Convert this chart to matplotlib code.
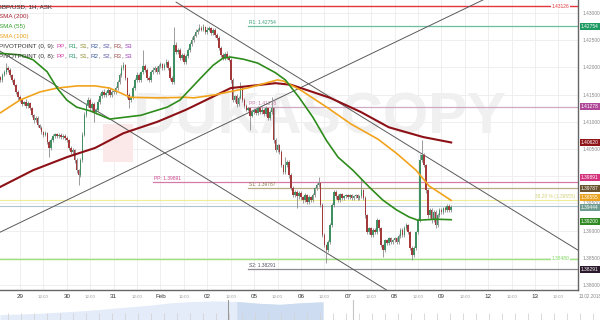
import numpy as np
import matplotlib
matplotlib.use("Agg")
import matplotlib.pyplot as plt
from matplotlib.patches import Rectangle

plt.rcParams['font.family'] = ['Liberation Sans', 'DejaVu Sans']

# hourly GBP/USD candles, hour 0 = Jan 29 00:00 (trading hours only, weekend skipped)
first_open = 1.4182
closes = [
    1.4177, 1.4186, 1.4191, 1.4199, 1.4195, 1.4186, 1.4177, 1.4168, 1.4155, 1.4145,
    # Jan 29
    1.4140, 1.4133, 1.4136, 1.4129, 1.4135, 1.4125, 1.4112, 1.4103, 1.4107, 1.4094, 1.4089, 1.4081,
    1.4076, 1.4079, 1.4063, 1.4052, 1.4066, 1.4074, 1.4077, 1.4074, 1.4076, 1.4072, 1.4074, 1.4070,
    # Jan 30
    1.4066, 1.4052, 1.4044, 1.4048, 1.4030, 1.4011, 1.4002, 1.4030, 1.4076, 1.4112, 1.4131, 1.4140,
    1.4125, 1.4133, 1.4118, 1.4122, 1.4136, 1.4147, 1.4155, 1.4149, 1.4153, 1.4158, 1.4149, 1.4155,
    # Jan 31
    1.4155, 1.4162, 1.4173, 1.4186, 1.4199, 1.4204, 1.4180, 1.4149, 1.4140, 1.4145, 1.4162, 1.4177,
    1.4186, 1.4177, 1.4191, 1.4202, 1.4195, 1.4180, 1.4177, 1.4191, 1.4195, 1.4199, 1.4191, 1.4202,
    # Feb 1
    1.4206, 1.4199, 1.4204, 1.4210, 1.4199, 1.4180, 1.4173, 1.4241, 1.4228, 1.4232, 1.4217, 1.4223,
    1.4210, 1.4221, 1.4232, 1.4243, 1.4250, 1.4258, 1.4265, 1.4269, 1.4272, 1.4269, 1.4274, 1.4265,
    # Feb 2
    1.4269, 1.4272, 1.4263, 1.4269, 1.4260, 1.4254, 1.4236, 1.4223, 1.4217, 1.4225, 1.4219, 1.4214,
    1.4177, 1.4140, 1.4147, 1.4133, 1.4144, 1.4162, 1.4140, 1.4129, 1.4122, 1.4125, 1.4111, 1.4118,
    # Feb 5
    1.4122, 1.4116, 1.4125, 1.4118, 1.4122, 1.4114, 1.4125, 1.4107, 1.4118, 1.4125, 1.4066, 1.4048,
    1.4057, 1.4044, 1.4020, 1.4007, 1.4020, 1.4026, 1.4002, 1.3978, 1.3965, 1.3971, 1.3963, 1.3969,
    # Feb 6
    1.3961, 1.3956, 1.3965, 1.3952, 1.3961, 1.3956, 1.3965, 1.3978, 1.3984, 1.3987, 1.3947, 1.3892,
    1.3873, 1.3864, 1.3879, 1.3910, 1.3947, 1.3971, 1.3963, 1.3956, 1.3967, 1.3960, 1.3963, 1.3965,
    # Feb 7
    1.3961, 1.3965, 1.3960, 1.3963, 1.3965, 1.3960, 1.3963, 1.3974, 1.3960, 1.3928, 1.3897, 1.3904,
    1.3892, 1.3901, 1.3897, 1.3919, 1.3904, 1.3873, 1.3864, 1.3882, 1.3877, 1.3886, 1.3879, 1.3882,
    # Feb 8
    1.3886, 1.3879, 1.3890, 1.3901, 1.3892, 1.3905, 1.3910, 1.3897, 1.3868, 1.3855, 1.3868, 1.3897,
    1.3919, 1.4030, 1.4039, 1.4020, 1.3974, 1.3928, 1.3938, 1.3919, 1.3934, 1.3910, 1.3928, 1.3938,
    # Feb 9
    1.3934, 1.3941, 1.3938, 1.3945, 1.3938, 1.3944,
]
# wick lengths in pips beyond the body
wick_up = [
    3, 4, 5, 9, 3, 3, 2, 3, 2, 3,
    4, 3, 3, 5, 3, 2, 3, 2, 4, 3, 2, 3, 3, 4, 2, 3, 5, 4, 3, 3, 4, 3, 3, 3,
    3, 2, 3, 3, 2, 3, 3, 4, 5, 6, 4, 5, 3, 4, 3, 4, 5, 6, 4, 5, 3, 6, 4, 3,
    3, 4, 3, 4, 5, 6, 3, 3, 4, 3, 4, 4, 5, 4, 3, 30, 4, 3, 4, 5, 6, 4, 3, 5,
    4, 3, 4, 5, 3, 3, 4, 33, 5, 4, 3, 4, 3, 4, 3, 4, 5, 4, 5, 4, 8, 4, 5, 3,
    5, 4, 3, 4, 3, 3, 3, 3, 3, 4, 5, 3, 3, 4, 3, 4, 3, 11, 3, 3, 3, 3, 3, 4,
    4, 3, 4, 3, 5, 3, 4, 3, 4, 20, 3, 4, 3, 3, 4, 3, 15, 3, 3, 3, 4, 4, 3, 4,
    4, 3, 4, 3, 4, 3, 4, 3, 4, 11, 3, 3, 3, 3, 4, 4, 4, 4, 3, 4, 3, 3, 3, 3,
    3, 3, 3, 3, 3, 3, 3, 22, 3, 3, 3, 3, 3, 3, 3, 5, 3, 3, 3, 3, 3, 3, 3, 3,
    3, 3, 3, 4, 3, 3, 4, 3, 3, 3, 3, 3, 4, 10, 27, 3, 3, 3, 4, 3, 4, 3, 4, 3,
    3, 3, 4, 3, 4, 3,
]
wick_dn = [
    3, 3, 2, 3, 4, 3, 4, 3, 4, 5,
    3, 4, 3, 3, 4, 3, 4, 5, 3, 4, 3, 3, 4, 3, 4, 17, 3, 3, 3, 4, 3, 3, 4, 3,
    4, 3, 4, 3, 5, 6, 18, 4, 3, 3, 3, 4, 3, 5, 19, 3, 4, 3, 3, 4, 3, 3, 4, 3,
    3, 3, 3, 3, 4, 3, 4, 5, 15, 3, 4, 3, 3, 4, 3, 3, 3, 4, 3, 3, 3, 4, 3, 3,
    3, 3, 4, 3, 4, 3, 4, 3, 4, 3, 4, 3, 3, 3, 3, 3, 3, 3, 3, 3, 3, 3, 3, 4,
    3, 3, 3, 3, 4, 3, 4, 3, 3, 3, 3, 3, 5, 4, 3, 5, 4, 3, 4, 3, 3, 3, 26, 3,
    3, 4, 3, 4, 3, 4, 3, 4, 3, 3, 5, 4, 4, 3, 4, 3, 3, 4, 5, 3, 4, 3, 22, 4,
    4, 5, 3, 4, 3, 4, 3, 4, 3, 3, 4, 4, 3, 24, 3, 3, 3, 3, 4, 3, 4, 3, 3, 3,
    3, 3, 3, 3, 3, 3, 3, 3, 3, 4, 4, 3, 4, 3, 3, 3, 4, 4, 13, 4, 3, 3, 3, 3,
    3, 4, 3, 3, 3, 3, 3, 4, 4, 9, 3, 3, 3, 3, 3, 4, 4, 4, 4, 5, 4, 5, 3, 3,
    3, 3, 3, 3, 3, 3,
]
first_hour = -10

day_hours = [0, 24, 48, 72, 96, 120, 144, 168, 192, 216, 240, 264]
day_labels = ["29", "30", "31", "Feb", "02", "05", "06", "07", "08", "09", "12", "13"]

# moving averages (hour, price)
sma55_h = [-10.3, 0, 6.7, 13.9, 19, 24, 29, 36, 46, 62, 75.5, 82, 92.5, 99, 104, 108,
           114.6, 121.8, 131, 136, 143, 150, 157, 163, 170.6, 179, 186, 193, 199.4, 204, 213, 221]
sma55_v = [1.4226, 1.4223, 1.4214, 1.4192, 1.4162, 1.4140, 1.4127, 1.4120, 1.4105, 1.4112,
           1.4127, 1.4140, 1.4180, 1.4204, 1.4217, 1.4219, 1.4215, 1.4208, 1.4190, 1.4177,
           1.4145, 1.4109, 1.4066, 1.4035, 1.4011, 1.3980, 1.3956, 1.3938, 1.3925, 1.3919,
           1.3921, 1.3920]
sma100_h = [-10.3, 0, 10.3, 19, 29.3, 38.5, 46, 56.5, 70.4, 85, 89, 99, 116.6, 132, 135,
            144, 158, 169.6, 183.5, 193, 203, 209.7, 217, 221]
sma100_v = [1.4116, 1.4140, 1.4155, 1.4162, 1.4166, 1.4166, 1.4162, 1.4145, 1.4144, 1.4145,
            1.4144, 1.4149, 1.4162, 1.4177, 1.4175, 1.4158, 1.4125, 1.4096, 1.4068, 1.4042,
            1.4011, 1.3982, 1.3965, 1.39555]
sma200_h = [-10.3, 6.7, 24, 38.5, 53, 70.4, 85, 108, 131, 139, 159, 174.7, 189, 206.6, 221]
sma200_v = [1.3980, 1.4011, 1.4035, 1.4052, 1.4079, 1.4100, 1.4122, 1.4162, 1.4171, 1.4168,
            1.4144, 1.4118, 1.4090, 1.4072, 1.4062]

# drawn trend lines (hour, price) pairs
trend_lines = [
    [(80, 1.4320), (286, 1.3864)],
    [(-10.25, 1.4230), (189.6, 1.3787)],
    [(-10.25, 1.3897), (237.3, 1.4324)],
]

# pivot / level lines: price, start hour, colour, text
pivot_levels = [
    (1.42754, 117, "#6cbf9c", "R1: 1.42754", "#3aa078"),
    (1.41278, 117, "#cfa8c2", "PP: 1.41278", "#c27aa8"),
    (1.39891, 68, "#d77aa9", "PP: 1.39891", "#c9408a"),
    (1.39787, 117, "#b9ab85", "S1: 1.39787", "#8a7a4a"),
    (1.38291, 117, "#8d8891", "S2: 1.38291", "#555060"),
]
red_level = 1.43126
green_level = 1.38480
fib_level = 1.39555
last_price = 1.39444

# coloured price tags on the right axis (price, colour, nudge in points so tags don't collide)
tags = [
    (1.42754, "#1f9a62", 0), (1.41278, "#b0489a", 0), (1.40620, "#8e1418", 0),
    (1.39891, "#d4327c", 3), (1.39787, "#6a5330", -0.5), (1.39555, "#eba21e", 2),
    (1.39444, "#6f9c90", -0.5), (1.39200, "#2f8a22", -1), (1.38291, "#2b1a2c", 0),
]

nav_levels = [0.30, 0.33, 0.38, 0.45, 0.52, 0.62, 0.72, 0.82, 0.95, 1.02, 1.05, 1.02,
              0.92, 0.86, 0.95, 1.0]

W, H = 600, 320
fig = plt.figure(figsize=(W / 100, H / 100), dpi=100)
ax = fig.add_axes([0, 30 / H, 578 / W, 290 / H])
ax.set_xlim(-10.25, 286.0)
ax.set_ylim(1.37908, 1.43239)

# grid
half_hours = [d + 12 for d in day_hours]
for h in day_hours + half_hours:
    ax.axvline(h, color="#ededed", lw=0.6, zorder=0)
yticks = np.arange(1.380, 1.4301, 0.005)
for y in yticks:
    ax.axhline(y, color="#ededed", lw=0.6, zorder=0)

# watermark
ax.text(0.23, 0.59, "DUKASCOPY", transform=ax.transAxes, fontsize=42, fontweight="bold",
        color="#f0f0f0", ha="left", va="center", zorder=0.5)
ax.add_patch(Rectangle((103 / 578, 1 - 162 / 290), 30 / 578, 38 / 290, transform=ax.transAxes,
                       color="#fbe8e8", zorder=0.5, lw=0))

# level lines
ax.axhline(red_level, color="#e2363a", lw=1.0, zorder=2)
ax.axhline(green_level, color="#9be37a", lw=1.0, zorder=2)
ax.axhline(fib_level, color="#eeee9a", lw=0.8, zorder=2)
ax.axhline(last_price, color="#b3c6d0", lw=0.8, zorder=2)
for price, start, col, txt, tcol in pivot_levels:
    ax.plot([start, 286], [price, price], color=col, lw=0.9, zorder=2)
    ax.text(start + 0.5, price + 0.0002, txt, color=tcol, fontsize=3.5, va="bottom", zorder=2)
ax.text(277, red_level, "1.43126", color="#e2363a", fontsize=3.5, ha="center", va="center",
        bbox=dict(facecolor="white", edgecolor="none", pad=0.5), zorder=3)
ax.text(277, green_level, "1.38480", color="#7bd65a", fontsize=3.5, ha="center", va="center",
        bbox=dict(facecolor="white", edgecolor="none", pad=0.5), zorder=3)
ax.text(284.5, fib_level + 0.0002, "38.20 % (1.39555)", color="#d2d27a", fontsize=3.5,
        ha="right", va="bottom", zorder=3)

for (h0, p0), (h1, p1) in trend_lines:
    ax.plot([h0, h1], [p0, p1], color="#5a5a5a", lw=0.7, zorder=3)

# candles
closes_a = np.array(closes)
opens_a = np.concatenate([[first_open], closes_a[:-1]])
hours = np.arange(len(closes)) + first_hour
highs = np.maximum(opens_a, closes_a) + np.array(wick_up) / 10000
lows = np.minimum(opens_a, closes_a) - np.array(wick_dn) / 10000
up = closes_a >= opens_a
colors = np.where(up, "#3f9163", "#a3393b")
ax.vlines(hours, lows, highs, color="#8c8c8c", lw=0.6, zorder=4)
body = np.maximum(np.abs(closes_a - opens_a), 0.00008)
ax.bar(hours, body, bottom=np.minimum(opens_a, closes_a), width=0.82, color=colors,
       linewidth=0, zorder=5)

# moving averages
ax.plot(sma200_h, sma200_v, color="#8c1016", lw=1.5, zorder=6)
ax.plot(sma100_h, sma100_v, color="#f2a31c", lw=1.2, zorder=6)
ax.plot(sma55_h, sma55_v, color="#2e8c1c", lw=1.2, zorder=6)

# axes styling
for s in ["top", "left"]:
    ax.spines[s].set_visible(False)
ax.spines["right"].set_color("#666666")
ax.spines["bottom"].set_color("#666666")
ax.spines["right"].set_linewidth(1.0)
ax.spines["bottom"].set_linewidth(1.0)
ax.yaxis.tick_right()
ax.set_yticks(yticks)
ax.set_yticklabels([f"{y:.5f}" for y in yticks])
ax.tick_params(axis="y", length=0, pad=3, labelsize=3.5, labelcolor="#888888")
ax.set_xticks(day_hours)
ax.set_xticklabels(day_labels)
ax.set_xticks(half_hours, minor=True)
ax.set_xticklabels(["12:00"] * len(half_hours), minor=True)
ax.tick_params(axis="x", which="major", length=0, pad=3, labelsize=4.5, labelcolor="#333333")
ax.tick_params(axis="x", which="minor", length=0, pad=3.5, labelsize=3.2, labelcolor="#999999")

for price, col, dy in tags:
    ax.annotate(f"{price:.5f}", xy=(1.0, price), xycoords=("axes fraction", "data"),
                xytext=(2, dy), textcoords="offset points", fontsize=3.5, color="white",
                ha="left", va="center", annotation_clip=False, zorder=10,
                bbox=dict(boxstyle="square,pad=0.2", facecolor=col, edgecolor="none"))
fig.text(579 / W, 1 - 297 / H, "13.02.2018", fontsize=3.3, color="#888888", va="center")

# legend block
renderer = fig.canvas.get_renderer()


def color_row(x_px, y_px, parts):
    x = x_px
    for txt, col in parts:
        t = fig.text(x / W, 1 - y_px / H, txt, color=col, fontsize=4.5, va="center", ha="left")
        x += t.get_window_extent(renderer=renderer).width


color_row(-3, 6.5, [("GBP/USD, 1H, ASK", "#333333")])
color_row(-1, 16.7, [("SMA (200)", "#a8202e")])
color_row(-1, 26.7, [("SMA (55)", "#34a02c")])
color_row(-1, 36.7, [("SMA (100)", "#eaa01e")])
piv_parts = [("PP", "#d040a8"), ("R1", "#2c9c6c"), ("S1", "#8c8c2c"), ("R2", "#3c5a9c"),
             ("S2", "#5454a8"), ("R3", "#a05050"), ("S3", "#9a3cb4")]
for y, name in [(46.7, "PIVOTPOINT (0, 9): "), (56.7, "PIVOTPOINT (0, 8): ")]:
    parts = [(name, "#333333")]
    for i, p in enumerate(piv_parts):
        parts.append(p)
        if i < len(piv_parts) - 1:
            parts.append((", ", "#333333"))
    color_row(-1, y, parts)

# navigator strip
nav = fig.add_axes([0, 0, 1, 20 / H])
nav.set_xlim(0, 1)
nav.set_ylim(0, 1.1)
nav.axis("off")
nx = np.linspace(0, 323 / W, len(nav_levels))
nav.fill_between(nx, 0, nav_levels, color="#e3ecf8", lw=0)
sel = nx >= 228 / W
nav.fill_between(nx[sel], 0, np.array(nav_levels)[sel], color="#cddcf0", lw=0)
nav.vlines(np.arange(8, 600, 13) / W, 0, 0.4, color="#d4d4d4", lw=0.6)
nav.axvline(228 / W, color="#9a9a9a", lw=0.8)
nav.axvline(353 / W, color="#c4c4c4", lw=0.8)

fig.savefig("out.png", dpi=100)
